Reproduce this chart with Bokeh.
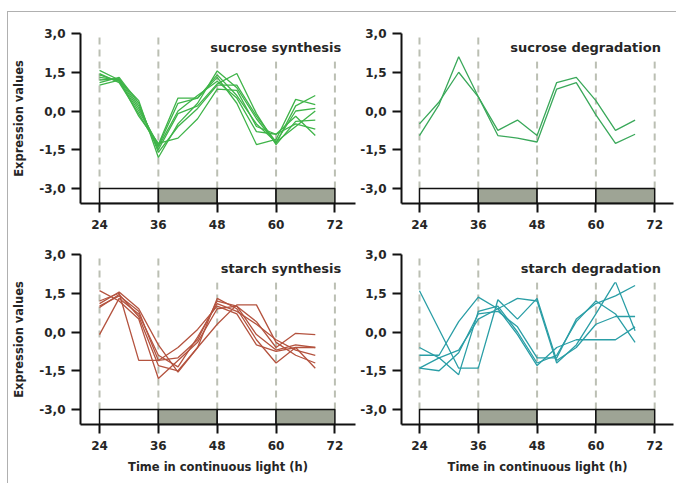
from bokeh.plotting import figure
from bokeh.layouts import column, row
from bokeh.models import FixedTicker, Label, Range1d, Spacer
from bokeh.embed import file_html
from bokeh.resources import INLINE

# ---------------- data ----------------
hours = [24, 28, 32, 36, 40, 44, 48, 52, 56, 60, 64, 68]
x_ticks = [24, 36, 48, 60, 72]
y_ticks = [-3.0, -1.5, 0.0, 1.5, 3.0]
y_tick_labels = ["-3,0", "-1,5", "0,0", "1,5", "3,0"]
phase_left = [24, 36, 48, 60]
phase_right = [36, 48, 60, 72]
phase_color = ["white", "#9ea495", "white", "#9ea495"]

sucrose_synthesis = [
    [1.57, 1.20, 0.40, -1.80, -0.50, 0.30, 1.55, 0.90, -0.30, -1.25, 0.20, 0.60],
    [1.40, 1.15, 0.00, -1.30, 0.50, 0.50, 1.30, 0.30, -1.30, -1.10, 0.45, 0.25],
    [1.20, 1.25, 0.20, -1.50, -0.10, 0.20, 1.05, 1.45, -0.10, -1.30, -0.40, -0.35],
    [1.00, 1.20, -0.20, -1.25, -1.05, -0.30, 0.85, 0.80, -0.60, -0.90, -0.50, -0.70],
    [1.45, 1.10, -0.10, -1.40, 0.00, 0.60, 1.15, 0.50, -0.80, -0.90, -0.20, -0.95],
    [1.10, 1.30, 0.30, -1.60, -0.60, 0.10, 1.00, 1.00, -0.20, -1.20, -0.60, 0.00],
    [1.30, 1.20, 0.10, -1.35, 0.30, 0.50, 1.40, 0.60, -0.50, -1.20, 0.00, 0.10],
]
sucrose_degradation = [
    [-0.95, 0.25, 2.10, 0.55, -0.75, -0.35, -0.95, 1.10, 1.30, 0.40, -0.75, -0.35],
    [-0.50, 0.35, 1.50, 0.55, -0.95, -1.05, -1.20, 0.85, 1.10, -0.15, -1.25, -0.90],
]
starch_synthesis = [
    [1.60, 1.20, 0.50, -1.80, -1.10, -0.40, 0.90, 1.00, -0.10, -0.70, -0.50, -0.60],
    [1.10, 1.55, 0.90, -0.50, -1.55, -0.60, 1.30, 0.90, -0.30, -1.20, -0.60, -1.40],
    [1.00, 1.40, 0.80, -1.10, -1.00, -0.30, 1.20, 1.00, 0.40, -0.60, -0.05, -0.10],
    [-0.10, 1.30, 0.70, -0.90, -1.35, -0.20, 1.10, 0.80, 0.30, -0.30, -0.70, -0.90],
    [1.20, 1.50, -1.10, -1.10, -0.60, 0.10, 1.00, 0.70, -0.50, -0.75, -0.60, -0.60],
    [0.95, 1.45, 0.60, -1.30, -1.50, -0.60, 0.30, 1.05, 1.05, -0.40, -0.90, -1.20],
]
starch_degradation = [
    [1.60, 0.10, -1.40, -1.40, 1.25, 0.50, 1.30, -1.10, -0.60, 0.30, 0.60, 0.60],
    [-0.60, -1.00, -1.65, 0.80, 1.00, 0.00, -1.20, -0.90, 0.40, 1.20, 0.70, -0.40],
    [-1.40, -1.00, -0.70, 0.50, 0.90, 1.30, 1.20, -1.20, -0.50, 0.70, 1.95, 0.05],
    [-0.90, -0.90, 0.40, 1.35, 0.90, -0.10, -1.30, -0.60, -0.30, -0.30, -0.30, 0.20],
    [-1.40, -1.50, -0.80, 0.70, 0.80, 0.20, -1.00, -1.00, 0.50, 1.10, 1.40, 1.80],
]

FONT = "DejaVu Sans"
TXT = "#262626"
Y0, Y1 = -3.58, 3.0


def panel(series, color, title, width, height, mb, xr, ylab, xlab):
    p = figure(width=width, height=height, output_backend="svg", toolbar_location=None,
               x_range=Range1d(*xr), y_range=Range1d(Y0, Y1),
               min_border_left=mb[0], min_border_right=mb[1],
               min_border_top=mb[2], min_border_bottom=mb[3])
    p.outline_line_color = None
    p.xgrid.grid_line_color = None
    p.ygrid.grid_line_color = None
    p.background_fill_color = "white"
    p.border_fill_color = "white"

    # dashed day markers
    p.segment(x0=x_ticks, x1=x_ticks, y0=[-3.0] * len(x_ticks), y1=[Y1] * len(x_ticks),
              line_color="#bbbfb3", line_width=2, line_dash="7 5")
    # light / dark bar
    p.quad(left=phase_left, right=phase_right, bottom=[Y0] * 4, top=[-3.0] * 4,
           fill_color=phase_color, line_color="#111111", line_width=1.5)
    for s in series:
        p.line(hours, s, line_color=color, line_width=1.3)

    p.add_layout(Label(x=74.5, y=2.45, text=title, text_align="right",
                       text_baseline="middle", text_font=FONT, text_font_style="bold",
                       text_font_size="13px", text_color=TXT,
                       background_fill_color="white", padding=6))

    xa = p.xaxis[0]
    xa.ticker = FixedTicker(ticks=x_ticks)
    ya = p.yaxis[0]
    ya.ticker = FixedTicker(ticks=y_ticks)
    ya.major_label_overrides = {t: l for t, l in zip(y_ticks, y_tick_labels)}
    for ax in (xa, ya):
        ax.axis_line_width = 2
        ax.axis_line_color = "#111111"
        ax.major_tick_line_width = 2
        ax.major_tick_line_color = "#111111"
        ax.major_tick_in = 0
        ax.minor_tick_line_color = None
        ax.major_label_text_font = FONT
        ax.major_label_text_font_style = "bold"
        ax.major_label_text_font_size = "12px"
        ax.major_label_text_color = TXT
        ax.axis_label_text_font = FONT
        ax.axis_label_text_font_style = "bold"
        ax.axis_label_text_font_size = "11.5px"
        ax.axis_label_text_color = TXT
    xa.major_tick_out = 9
    xa.major_label_standoff = 7
    ya.major_tick_out = 9
    ya.major_label_standoff = 6
    if ylab:
        ya.axis_label = "Expression values"
        ya.axis_label_standoff = 10
    if xlab:
        xa.axis_label = "Time in continuous light (h)"
        xa.axis_label_standoff = 7
    return p


XL = (20.12, 76.2)
XR = (20.33, 75.84)
p1 = panel(sucrose_synthesis, "#3fb449", "sucrose synthesis", 348, 224, (72, 1, 21, 33), XL, True, False)
p2 = panel(sucrose_degradation, "#3aa85a", "sucrose degradation", 320, 224, (45, 3, 21, 33), XR, False, False)
p3 = panel(starch_synthesis, "#b4533f", "starch synthesis", 348, 247, (72, 1, 18, 59), XL, True, True)
p4 = panel(starch_degradation, "#2a9ea6", "starch degradation", 320, 247, (45, 3, 18, 59), XR, False, True)

grid = column(row(p1, p2), row(p3, p4))
frame_top = Spacer(width=669, height=1, styles={"background-color": "#b0b0b0"})
frame_left = Spacer(width=1, height=471, styles={"background-color": "#b0b0b0"})
layout = column(Spacer(width=1, height=11),
                row(Spacer(width=7, height=1), column(frame_top, row(frame_left, grid))))

open("out.html", "w").write(file_html(layout, INLINE))
